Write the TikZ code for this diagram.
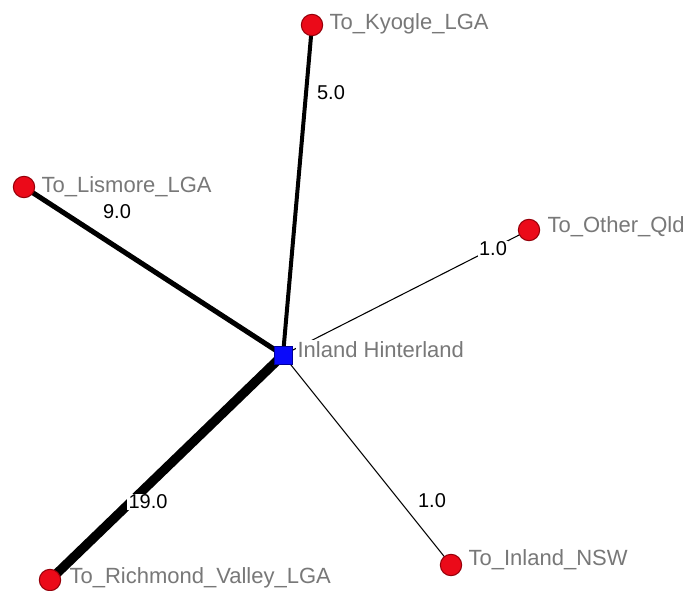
\documentclass[tikz,border=0pt]{standalone}
\usepackage{fontspec}
\setmainfont{Liberation Sans}
\definecolor{nodered}{RGB}{235,10,25}
\definecolor{nodeedge}{RGB}{150,0,10}
\definecolor{hubblue}{RGB}{10,10,250}
\definecolor{labgray}{RGB}{120,120,120}
\begin{document}
\begin{tikzpicture}[x=0.75pt,y=-0.75pt,
  actor/.style={circle,fill=nodered,draw=nodeedge,line width=0.8pt,minimum size=16pt,inner sep=0pt},
  hub/.style={rectangle,fill=hubblue,draw=blue!60!black,line width=0.6pt,minimum size=13.5pt,inner sep=0pt},
  namelab/.style={anchor=west,text=labgray,font=\fontsize{16.5}{18}\selectfont,inner sep=1pt},
  edgelab/.style={fill=white,text=black,font=\fontsize{15}{16}\selectfont,inner sep=1pt},
  tie/.style={draw=black}]
\useasboundingbox[fill=white] (0,0) rectangle (695,591);
% node positions
\coordinate (H) at (283,355);
\coordinate (K) at (312,25);
\coordinate (L) at (24,187);
\coordinate (Q) at (529,230);
\coordinate (N) at (451,565);
\coordinate (R) at (50,580);
% edges
\draw[tie,line width=3pt] (H) -- (K);
\draw[tie,line width=3.8pt] (H) -- (L);
\draw[tie,line width=0.8pt] (H) -- (Q);
\draw[tie,line width=0.8pt] (H) -- (N);
\draw[tie,line width=7pt] (H) -- (R);
% edge labels
\node[edgelab] (e5) at (331,93) {5.0};
\node[edgelab] (e9) at (117,212) {9.0};
\node[edgelab] (e1a) at (493,249) {1.0};
\node[edgelab] (e19) at (148,502) {19.0};
\node[edgelab] (e1b) at (432,501) {1.0};
% nodes
\node[actor] (k) at (K) {};
\node[actor] (l) at (L) {};
\node[actor] (q) at (Q) {};
\node[actor] (n) at (N) {};
\node[actor] (r) at (R) {};
\node[hub] (h) at (H) {};
% names
\node[namelab] (tk) at (328,24) {To\_Kyogle\_LGA};
\node[namelab] (tl) at (40,187) {To\_Lismore\_LGA};
\node[namelab] (tq) at (546,227) {To\_Other\_Qld};
\node[namelab,fill=white,text height=1.2em,text depth=0.3em] (th) at (296,351) {Inland Hinterland};
\node[namelab] (tn) at (467,560) {To\_Inland\_NSW};
\node[namelab] (tr) at (68,578) {To\_Richmond\_Valley\_LGA};
\end{tikzpicture}
\end{document}
